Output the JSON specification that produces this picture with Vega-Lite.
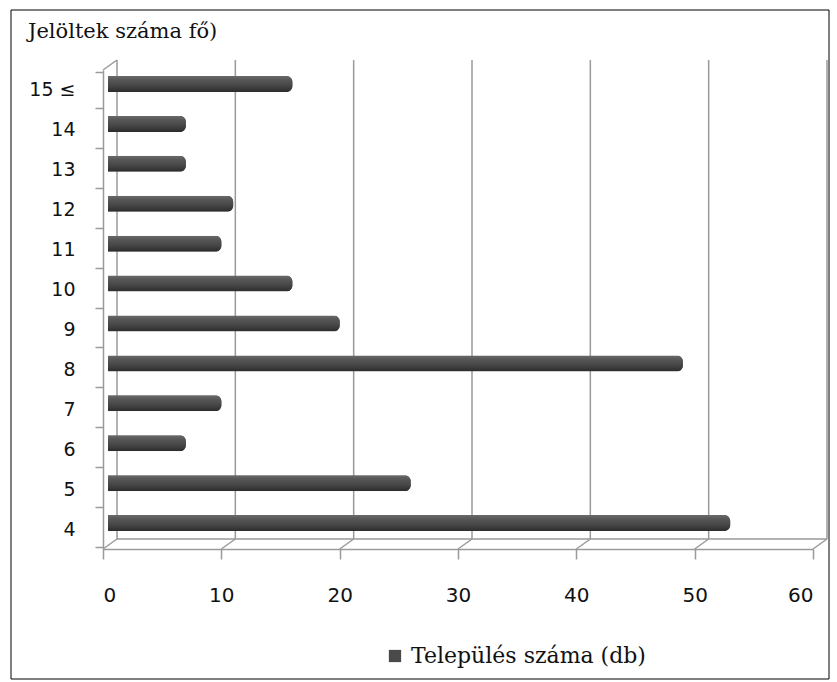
{
  "$schema": "https://vega.github.io/schema/vega-lite/v6.json",
  "autosize": "none",
  "width": 710,
  "height": 479,
  "padding": {"left": 103, "top": 70, "right": 24, "bottom": 133},
  "background": "white",
  "config": {"view": {"stroke": null}},
  "title": {
    "text": "Jelöltek száma fő)",
    "anchor": "start",
    "frame": "group",
    "dx": -75,
    "offset": -32,
    "font": "DejaVu Serif",
    "fontSize": 21,
    "fontWeight": "normal",
    "color": "#111"
  },
  "datasets": {
    "bars": [
      {"kategoria": "4", "telepules": 53},
      {"kategoria": "5", "telepules": 26},
      {"kategoria": "6", "telepules": 7},
      {"kategoria": "7", "telepules": 10},
      {"kategoria": "8", "telepules": 49},
      {"kategoria": "9", "telepules": 20},
      {"kategoria": "10", "telepules": 16},
      {"kategoria": "11", "telepules": 10},
      {"kategoria": "12", "telepules": 11},
      {"kategoria": "13", "telepules": 7},
      {"kategoria": "14", "telepules": 7},
      {"kategoria": "15 ≤", "telepules": 16}
    ],
    "grid": [
      {"v": 0}, {"v": 10}, {"v": 20}, {"v": 30}, {"v": 40}, {"v": 50}, {"v": 60}
    ]
  },
  "layer": [
    {
      "data": {"values": [{"a": 1}]},
      "mark": {"type": "rect", "fill": null, "stroke": "#000", "strokeWidth": 1},
      "encoding": {
        "x": {"value": -92},
        "x2": {"value": 726},
        "y": {"value": -60},
        "y2": {"value": 609}
      }
    },
    {
      "data": {"name": "grid"},
      "mark": {"type": "rule", "color": "#9a9a9a", "strokeWidth": 1.5, "xOffset": 14, "x2Offset": 14, "yOffset": -10, "y2Offset": -10},
      "encoding": {
        "x": {"field": "v", "type": "quantitative", "scale": {"domain": [0, 60]}},
        "y": {"value": 0},
        "y2": {"value": "height"}
      }
    },
    {
      "data": {"name": "grid"},
      "mark": {"type": "rule", "color": "#9a9a9a", "strokeWidth": 1.5, "x2Offset": 14, "y2Offset": -10},
      "encoding": {
        "x": {"field": "v", "type": "quantitative"},
        "x2": {"field": "v"},
        "y": {"value": "height"},
        "y2": {"value": "height"}
      }
    },
    {
      "data": {"values": [{"v": 0}]},
      "mark": {"type": "rule", "color": "#9a9a9a", "strokeWidth": 1.5, "x2Offset": 14, "y2Offset": -10},
      "encoding": {
        "x": {"field": "v", "type": "quantitative"},
        "x2": {"field": "v"},
        "y": {"value": 0},
        "y2": {"value": 0}
      }
    },
    {
      "data": {"values": [{"a": 0, "b": 60}]},
      "mark": {"type": "rule", "color": "#9a9a9a", "strokeWidth": 1.5, "xOffset": 14, "x2Offset": 14, "yOffset": -10, "y2Offset": -10},
      "encoding": {
        "x": {"field": "a", "type": "quantitative"},
        "x2": {"field": "b"},
        "y": {"value": "height"},
        "y2": {"value": "height"}
      }
    },
    {
      "data": {"name": "bars"},
      "mark": {"type": "bar", "xOffset": 5, "x2Offset": 7, "yOffset": -6, "height": 16, "cornerRadius": 6},
      "encoding": {
        "y": {
          "field": "kategoria",
          "type": "ordinal",
          "sort": ["15 ≤", "14", "13", "12", "11", "10", "9", "8", "7", "6", "5", "4"],
          "axis": {
            "title": null,
            "domainColor": "#9a9a9a",
            "domainWidth": 1.5,
            "tickColor": "#9a9a9a",
            "tickWidth": 1.5,
            "tickSize": 8,
            "tickBand": "extent",
            "labelPadding": 20,
            "labelFont": "DejaVu Sans",
            "labelFontSize": 19,
            "labelColor": "#111",
            "grid": false
          }
        },
        "x": {
          "field": "telepules",
          "type": "quantitative",
          "scale": {"domain": [0, 60]},
          "axis": {
            "title": null,
            "values": [0, 10, 20, 30, 40, 50, 60],
            "domainColor": "#9a9a9a",
            "domainWidth": 1.5,
            "tickColor": "#9a9a9a",
            "tickWidth": 1.5,
            "tickSize": 10,
            "labelPadding": 26,
            "labelFont": "DejaVu Sans",
            "labelFontSize": 20,
            "labelColor": "#111",
            "grid": false
          }
        },
        "color": {
          "datum": "Település száma (db)",
          "scale": {"range": ["#4a4a4a"]},
          "legend": {
            "title": null,
            "orient": "none",
            "legendX": 281,
            "legendY": 575,
            "symbolType": "square",
            "symbolSize": 150,
            "symbolStrokeWidth": 0,
            "labelFont": "DejaVu Serif",
            "labelFontSize": 22,
            "labelColor": "#111",
            "labelOffset": 5,
            "labelLimit": 0
          }
        }
      }
    },
    {
      "data": {"name": "bars"},
      "mark": {
        "type": "bar",
        "xOffset": 5,
        "x2Offset": 7,
        "yOffset": -6,
        "height": 16,
        "cornerRadius": 6,
        "fill": {
          "gradient": "linear",
          "x1": 0, "y1": 0, "x2": 0, "y2": 1,
          "stops": [
            {"offset": 0, "color": "#6a6a6a"},
            {"offset": 0.25, "color": "#575757"},
            {"offset": 0.6, "color": "#474747"},
            {"offset": 1, "color": "#2c2c2c"}
          ]
        }
      },
      "encoding": {
        "y": {"field": "kategoria", "type": "ordinal", "sort": ["15 ≤", "14", "13", "12", "11", "10", "9", "8", "7", "6", "5", "4"]},
        "x": {"field": "telepules", "type": "quantitative"}
      }
    }
  ]
}
